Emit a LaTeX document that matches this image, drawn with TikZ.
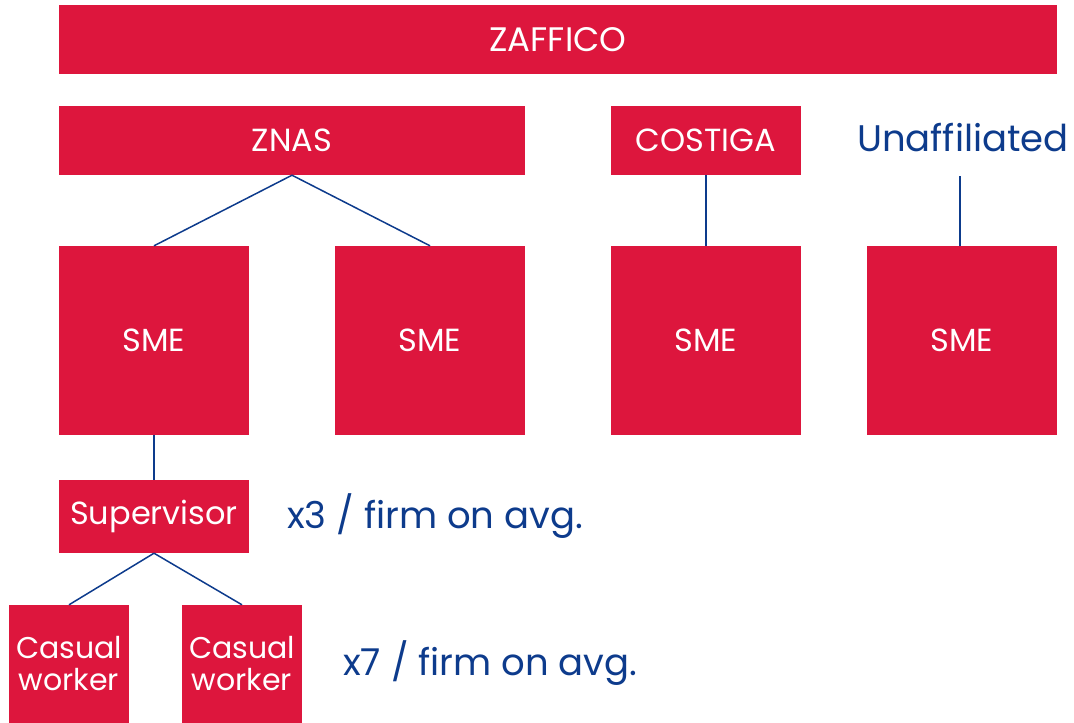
\documentclass[tikz,border=0pt]{standalone}
\usepackage{fontspec}
\setmainfont{Poppins}
\definecolor{boxred}{HTML}{DD163D}
\definecolor{lineblue}{HTML}{0D3B8C}
\begin{document}
\begin{tikzpicture}[x=1pt,y=-1pt,
  rbox/.style={fill=boxred,draw=none,text=white,inner sep=0pt,font=\fontsize{32}{36}\selectfont,align=center},
  conn/.style={draw=lineblue,line width=1.5pt},
  note/.style={text=lineblue,font=\fontsize{37}{42}\selectfont,inner sep=0pt,anchor=west}]
\useasboundingbox (0,0) rectangle (1074,723);
\node[rbox,minimum width=998,minimum height=69,font=\fontsize{34}{38}\selectfont] (zaf) at (558,39.5) {ZAFFICO};
\node[rbox,minimum width=466,minimum height=69] (znas) at (292,140.5) {ZNAS};
\node[rbox,minimum width=190,minimum height=69] (cos) at (706,140.5) {COSTIGA};
\node[text=lineblue,font=\fontsize{37}{42}\selectfont,inner sep=0pt] (una) at (963,138) {Unaffiliated};
\coordinate (unab) at (960,176);
\node[rbox,minimum width=190,minimum height=189] (sme1) at (154,340.5) {SME};
\node[rbox,minimum width=190,minimum height=189] (sme2) at (430,340.5) {SME};
\node[rbox,minimum width=190,minimum height=189] (sme3) at (706,340.5) {SME};
\node[rbox,minimum width=190,minimum height=189] (sme4) at (962,340.5) {SME};
\node[rbox,minimum width=190,minimum height=73] (sup) at (154,516.5) {Supervisor};
\node[rbox,minimum width=120,minimum height=118,font=\fontsize{30}{32}\selectfont] (cw1) at (69,664) {Casual\\worker};
\node[rbox,minimum width=120,minimum height=118,font=\fontsize{30}{32}\selectfont] (cw2) at (242,664) {Casual\\worker};
\node[note] (n3) at (287,516) {x3 / firm on avg.};
\node[note] (n7) at (343,663) {x7 / firm on avg.};
\draw[conn] (znas.south) -- (sme1.north);
\draw[conn] (znas.south) -- (sme2.north);
\draw[conn] (cos.south) -- (sme3.north);
\draw[conn] (unab) -- (unab |- sme4.north);
\draw[conn] (sme1.south) -- (sup.north);
\draw[conn] (sup.south) -- (cw1.north);
\draw[conn] (sup.south) -- (cw2.north);
\end{tikzpicture}
\end{document}
